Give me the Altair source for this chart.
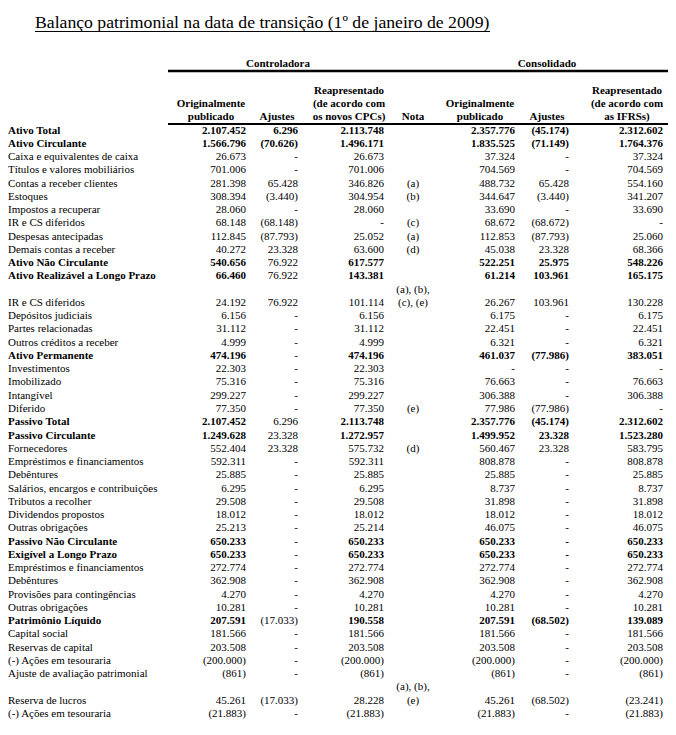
import altair as alt
import pandas as pd

# ---------------- data ----------------
title = "Balanço patrimonial na data de transição (1º de janeiro de 2009)"
group_labels = ["Controladora", "Consolidado"]

labels = [
    "Ativo Total", "Ativo Circulante", "Caixa e equivalentes de caixa",
    "Títulos e valores mobiliários", "Contas a receber clientes", "Estoques",
    "Impostos a recuperar", "IR e CS diferidos", "Despesas antecipadas",
    "Demais  contas a receber", "Ativo Não Circulante", "Ativo Realizável a Longo Prazo",
    "", "IR e CS diferidos", "Depósitos judiciais", "Partes relacionadas",
    "Outros créditos a receber", "Ativo Permanente", "Investimentos", "Imobilizado",
    "Intangível", "Diferido", "Passivo Total", "Passivo Circulante", "Fornecedores",
    "Empréstimos e financiamentos", "Debêntures", "Salários, encargos e contribuições",
    "Tributos a recolher", "Dividendos propostos", "Outras obrigações",
    "Passivo Não Circulante", "Exigível a Longo Prazo", "Empréstimos e financiamentos",
    "Debêntures", "Provisões para contingências", "Outras obrigações",
    "Patrimônio Líquido", "Capital social", "Reservas de capital",
    "(-) Ações em tesouraria", "Ajuste de avaliação patrimonial", "",
    "Reserva de lucros", "(-) Ações em tesouraria",
]
bold_rows = [0, 1, 10, 11, 17, 22, 23, 31, 32, 37]
bold_ctrl_aj_rows = [0, 1]

ctrl_orig = [
    "2.107.452", "1.566.796", "26.673", "701.006", "281.398", "308.394", "28.060",
    "68.148", "112.845", "40.272", "540.656", "66.460", "", "24.192", "6.156",
    "31.112", "4.999", "474.196", "22.303", "75.316", "299.227", "77.350",
    "2.107.452", "1.249.628", "552.404", "592.311", "25.885", "6.295", "29.508",
    "18.012", "25.213", "650.233", "650.233", "272.774", "362.908", "4.270",
    "10.281", "207.591", "181.566", "203.508", "(200.000)", "(861)", "",
    "45.261", "(21.883)",
]
ctrl_aj = [
    "6.296", "(70.626)", "-", "-", "65.428", "(3.440)", "-", "(68.148)", "(87.793)",
    "23.328", "76.922", "76.922", "", "76.922", "-", "-", "-", "-", "-", "-", "-", "-",
    "6.296", "23.328", "23.328", "-", "-", "-", "-", "-", "-", "-", "-", "-", "-", "-",
    "-", "(17.033)", "-", "-", "-", "-", "", "(17.033)", "-",
]
ctrl_reap = [
    "2.113.748", "1.496.171", "26.673", "701.006", "346.826", "304.954", "28.060",
    "-", "25.052", "63.600", "617.577", "143.381", "", "101.114", "6.156", "31.112",
    "4.999", "474.196", "22.303", "75.316", "299.227", "77.350", "2.113.748",
    "1.272.957", "575.732", "592.311", "25.885", "6.295", "29.508", "18.012",
    "25.214", "650.233", "650.233", "272.774", "362.908", "4.270", "10.281",
    "190.558", "181.566", "203.508", "(200.000)", "(861)", "", "28.228", "(21.883)",
]
nota = [
    "", "", "", "", "(a)", "(b)", "", "(c)", "(a)", "(d)", "", "", "(a), (b),",
    "(c), (e)", "", "", "", "", "", "", "", "(e)", "", "", "(d)", "", "", "", "",
    "", "", "", "", "", "", "", "", "", "", "", "", "", "(a), (b),", "(e)", "",
]
cons_orig = [
    "2.357.776", "1.835.525", "37.324", "704.569", "488.732", "344.647", "33.690",
    "68.672", "112.853", "45.038", "522.251", "61.214", "", "26.267", "6.175",
    "22.451", "6.321", "461.037", "-", "76.663", "306.388", "77.986", "2.357.776",
    "1.499.952", "560.467", "808.878", "25.885", "8.737", "31.898", "18.012",
    "46.075", "650.233", "650.233", "272.774", "362.908", "4.270", "10.281",
    "207.591", "181.566", "203.508", "(200.000)", "(861)", "", "45.261", "(21.883)",
]
cons_aj = [
    "(45.174)", "(71.149)", "-", "-", "65.428", "(3.440)", "-", "(68.672)",
    "(87.793)", "23.328", "25.975", "103.961", "", "103.961", "-", "-", "-",
    "(77.986)", "-", "-", "-", "(77.986)", "(45.174)", "23.328", "23.328", "-", "-",
    "-", "-", "-", "-", "-", "-", "-", "-", "-", "-", "(68.502)", "-", "-", "-", "-",
    "", "(68.502)", "-",
]
cons_ifrs = [
    "2.312.602", "1.764.376", "37.324", "704.569", "554.160", "341.207", "33.690",
    "-", "25.060", "68.366", "548.226", "165.175", "", "130.228", "6.175", "22.451",
    "6.321", "383.051", "-", "76.663", "306.388", "-", "2.312.602", "1.523.280",
    "583.795", "808.878", "25.885", "8.737", "31.898", "18.012", "46.075",
    "650.233", "650.233", "272.774", "362.908", "4.270", "10.281", "139.089",
    "181.566", "203.508", "(200.000)", "(861)", "", "(23.241)", "(21.883)",
]

col_keys = ["ctrl_orig", "ctrl_aj", "ctrl_reap", "nota", "cons_orig", "cons_aj", "cons_ifrs"]
col_values = [ctrl_orig, ctrl_aj, ctrl_reap, nota, cons_orig, cons_aj, cons_ifrs]
col_headers = [
    ["Originalmente", "publicado"],
    ["Ajustes"],
    ["Reapresentado", "(de acordo com", "os novos CPCs)"],
    ["Nota"],
    ["Originalmente", "publicado"],
    ["Ajustes"],
    ["Reapresentado", "(de acordo com", "as IFRSs)"],
]

# ---------------- layout (style) ----------------
FONT = "Liberation Serif"
FS = 11
W, H = 660, 719
value_x = {"ctrl_orig": 238, "ctrl_aj": 290, "ctrl_reap": 376, "nota": 405,
           "cons_orig": 507, "cons_aj": 561, "cons_ifrs": 655}
header_x = {"ctrl_orig": 203, "ctrl_aj": 269, "ctrl_reap": 341, "nota": 405,
            "cons_orig": 472, "cons_aj": 539, "cons_ifrs": 619}
group_x = [270, 539]

yscale = alt.Scale(domain=[0, 44], range=[122.5, 706])

# ---------------- tables ----------------
n = len(labels)
body = []
for i in range(n):
    body.append({"row": i, "col": "label", "text": labels[i], "bold": i in bold_rows})
    for key, vals in zip(col_keys, col_values):
        if key == "ctrl_aj":
            b = i in bold_ctrl_aj_rows
        elif key == "nota":
            b = False
        else:
            b = i in bold_rows
        body.append({"row": i, "col": key, "text": vals[i], "bold": b})
body_df = pd.DataFrame(body)

hdr = []
for key, lines in zip(col_keys, col_headers):
    k = len(lines)
    for j, t in enumerate(lines):
        hdr.append({"row": -(k - j), "col": key, "text": t})
hdr_df = pd.DataFrame(hdr)

grp_df = pd.DataFrame({"row": [-5, -5], "text": group_labels, "idx": [0, 1]})

base = alt.Chart(body_df)
layers = []

def ytext():
    return alt.Y("row:Q", scale=yscale, axis=None)

for bold in (True, False):
    fw = "bold" if bold else "normal"
    layers.append(
        base.transform_filter(
            (alt.datum.col == "label") & (alt.datum.bold == bold)
        ).mark_text(align="left", baseline="middle", font=FONT, fontSize=FS,
                    fontWeight=fw, color="black")
        .encode(x=alt.value(0), y=ytext(), text="text:N")
    )
    for key in col_keys:
        align = "center" if key == "nota" else "right"
        layers.append(
            base.transform_filter(
                (alt.datum.col == key) & (alt.datum.bold == bold)
            ).mark_text(align=align, baseline="middle", font=FONT, fontSize=FS,
                        fontWeight=fw, color="black")
            .encode(x=alt.value(value_x[key]), y=ytext(), text="text:N")
        )

hbase = alt.Chart(hdr_df)
for key in col_keys:
    layers.append(
        hbase.transform_filter(alt.datum.col == key)
        .mark_text(align="center", baseline="middle", font=FONT, fontSize=FS,
                   fontWeight="bold", color="black")
        .encode(x=alt.value(header_x[key]), y=ytext(), text="text:N")
    )

gbase = alt.Chart(grp_df)
for gi in range(2):
    layers.append(
        gbase.transform_filter(alt.datum.idx == gi)
        .mark_text(align="center", baseline="middle", font=FONT, fontSize=FS,
                   fontWeight="bold", color="black")
        .encode(x=alt.value(group_x[gi]), y=ytext(), text="text:N")
    )

# title
title_df = pd.DataFrame({"text": [title]})
layers.append(
    alt.Chart(title_df).mark_text(align="left", baseline="alphabetic", font=FONT,
                                  fontSize=17.7, color="black")
    .encode(x=alt.value(27), y=alt.value(20), text="text:N")
)
# rules
layers.append(alt.Chart(title_df).mark_rule(color="black", strokeWidth=1)
              .encode(x=alt.value(27), x2=alt.value(482), y=alt.value(23.5)))
layers.append(alt.Chart(title_df).mark_rule(color="black", strokeWidth=2.5)
              .encode(x=alt.value(160), x2=alt.value(662), y=alt.value(63)))
layers.append(alt.Chart(title_df).mark_rule(color="black", strokeWidth=2)
              .encode(x=alt.value(160), x2=alt.value(662), y=alt.value(116)))

chart = alt.layer(*layers).properties(
    width=W, height=H, padding=0,
    autosize=alt.AutoSizeParams(type="none"),
    background="white",
).configure_view(strokeWidth=0)

chart.save("out.html", embed_options={"renderer": "svg", "actions": False})
